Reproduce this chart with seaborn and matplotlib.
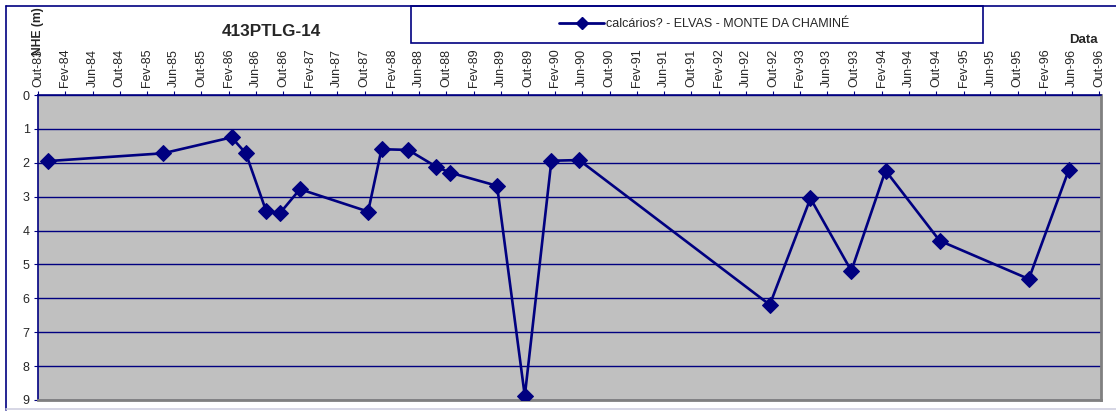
import pandas as pd
import matplotlib
matplotlib.use("Agg")
import matplotlib.pyplot as plt
import matplotlib.dates as mdates
from matplotlib.patches import Rectangle
from matplotlib.lines import Line2D
import seaborn as sns

datas = ["1983-11-15", "1985-04-13", "1986-02-13", "1986-04-18", "1986-07-17",
         "1986-09-17", "1986-12-16", "1987-10-17", "1987-12-16", "1988-04-13",
         "1988-08-15", "1988-10-17", "1989-05-16", "1989-09-17", "1990-01-14",
         "1990-05-18", "1992-09-17", "1993-03-18", "1993-09-17", "1994-02-17",
         "1994-10-17", "1995-11-20", "1996-05-17"]
nhe = [1.95, 1.72, 1.25, 1.72, 3.41, 3.49, 2.78, 3.44, 1.60, 1.62,
       2.11, 2.29, 2.68, 8.88, 1.94, 1.92, 6.19, 3.05, 5.19, 2.23,
       4.30, 5.43, 2.21]
serie = "calcários? - ELVAS - MONTE DA CHAMINÉ"
titulo = "413PTLG-14"
meses = ["Jan", "Fev", "Mar", "Abr", "Mai", "Jun",
         "Jul", "Ago", "Set", "Out", "Nov", "Dez"]

df = pd.DataFrame({"Data": pd.to_datetime(datas), "NHE": nhe})

sns.set_style("white")
plt.rcParams["font.family"] = ["Liberation Sans", "DejaVu Sans"]
navy = "#000080"

fig = plt.figure(figsize=(11.16, 4.12), dpi=100)
ax = fig.add_axes([38 / 1116, 12 / 412, 1063 / 1116, 305 / 412])
ax.set_facecolor("#c0c0c0")

sns.lineplot(data=df, x="Data", y="NHE", ax=ax, color=navy, linewidth=1.9,
             marker="D", markersize=8, markeredgecolor=navy, zorder=3)

# axis: depth increases downwards, dates on top
ax.set_ylim(9, 0)
ax.set_yticks(range(0, 10))
ax.set_xlim(pd.Timestamp("1983-10-01"), pd.Timestamp("1996-10-08"))
ticks = pd.date_range("1983-10-01", "1996-10-01", freq="4MS")
ax.set_xticks(mdates.date2num(ticks))
ax.set_xticklabels([f"{meses[t.month - 1]}-{t.year % 100:02d}" for t in ticks],
                   rotation=90, fontsize=9)
ax.xaxis.tick_top()
ax.tick_params(axis="x", which="both", top=True, bottom=False, length=3,
               color=navy, pad=3)
ax.tick_params(axis="y", left=True, length=3, color=navy, labelsize=9, pad=3)
ax.grid(axis="y", color=navy, linewidth=1)
ax.grid(axis="x", visible=False)
ax.set_xlabel("")
ax.set_ylabel("")

for s in ["left", "top"]:
    ax.spines[s].set_color(navy)
    ax.spines[s].set_linewidth(1.2)
for s in ["right", "bottom"]:
    ax.spines[s].set_color("#808080")
    ax.spines[s].set_linewidth(2)

# outer chart border
fig.add_artist(Line2D([6 / 1116, 6 / 1116], [2 / 412, 406 / 412],
                      transform=fig.transFigure, color=navy, linewidth=1.2))
fig.add_artist(Line2D([6 / 1116, 1], [406 / 412, 406 / 412],
                      transform=fig.transFigure, color=navy, linewidth=1.2))
fig.add_artist(Line2D([6 / 1116, 1], [3 / 412, 3 / 412],
                      transform=fig.transFigure, color="#d0d0e0", linewidth=1.2))

# texts
fig.text(271 / 1116, 1 - 31 / 412, titulo, ha="center", va="center",
         fontsize=12.3, fontweight="bold")
fig.text(38 / 1116, 1 - 31 / 412, "NHE (m)", ha="center", va="center",
         rotation=90, fontsize=8.7, fontweight="bold")
fig.text(1083 / 1116, 1 - 40 / 412, "Data", ha="center", va="center",
         fontsize=9.5, fontweight="bold")

# legend box
fig.add_artist(Rectangle((411 / 1116, 1 - 43 / 412), 572 / 1116, 37 / 412,
                         transform=fig.transFigure, facecolor="white",
                         edgecolor=navy, linewidth=1.2, zorder=1))
h = Line2D([], [], color=navy, linewidth=2, marker="D", markersize=6)
fig.legend([h], [serie], loc="center left", frameon=False, fontsize=9,
           handlelength=3.6, handletextpad=0.1,
           bbox_to_anchor=(548 / 1116, 1 - 24 / 412))

fig.savefig("out.png", dpi=100)
